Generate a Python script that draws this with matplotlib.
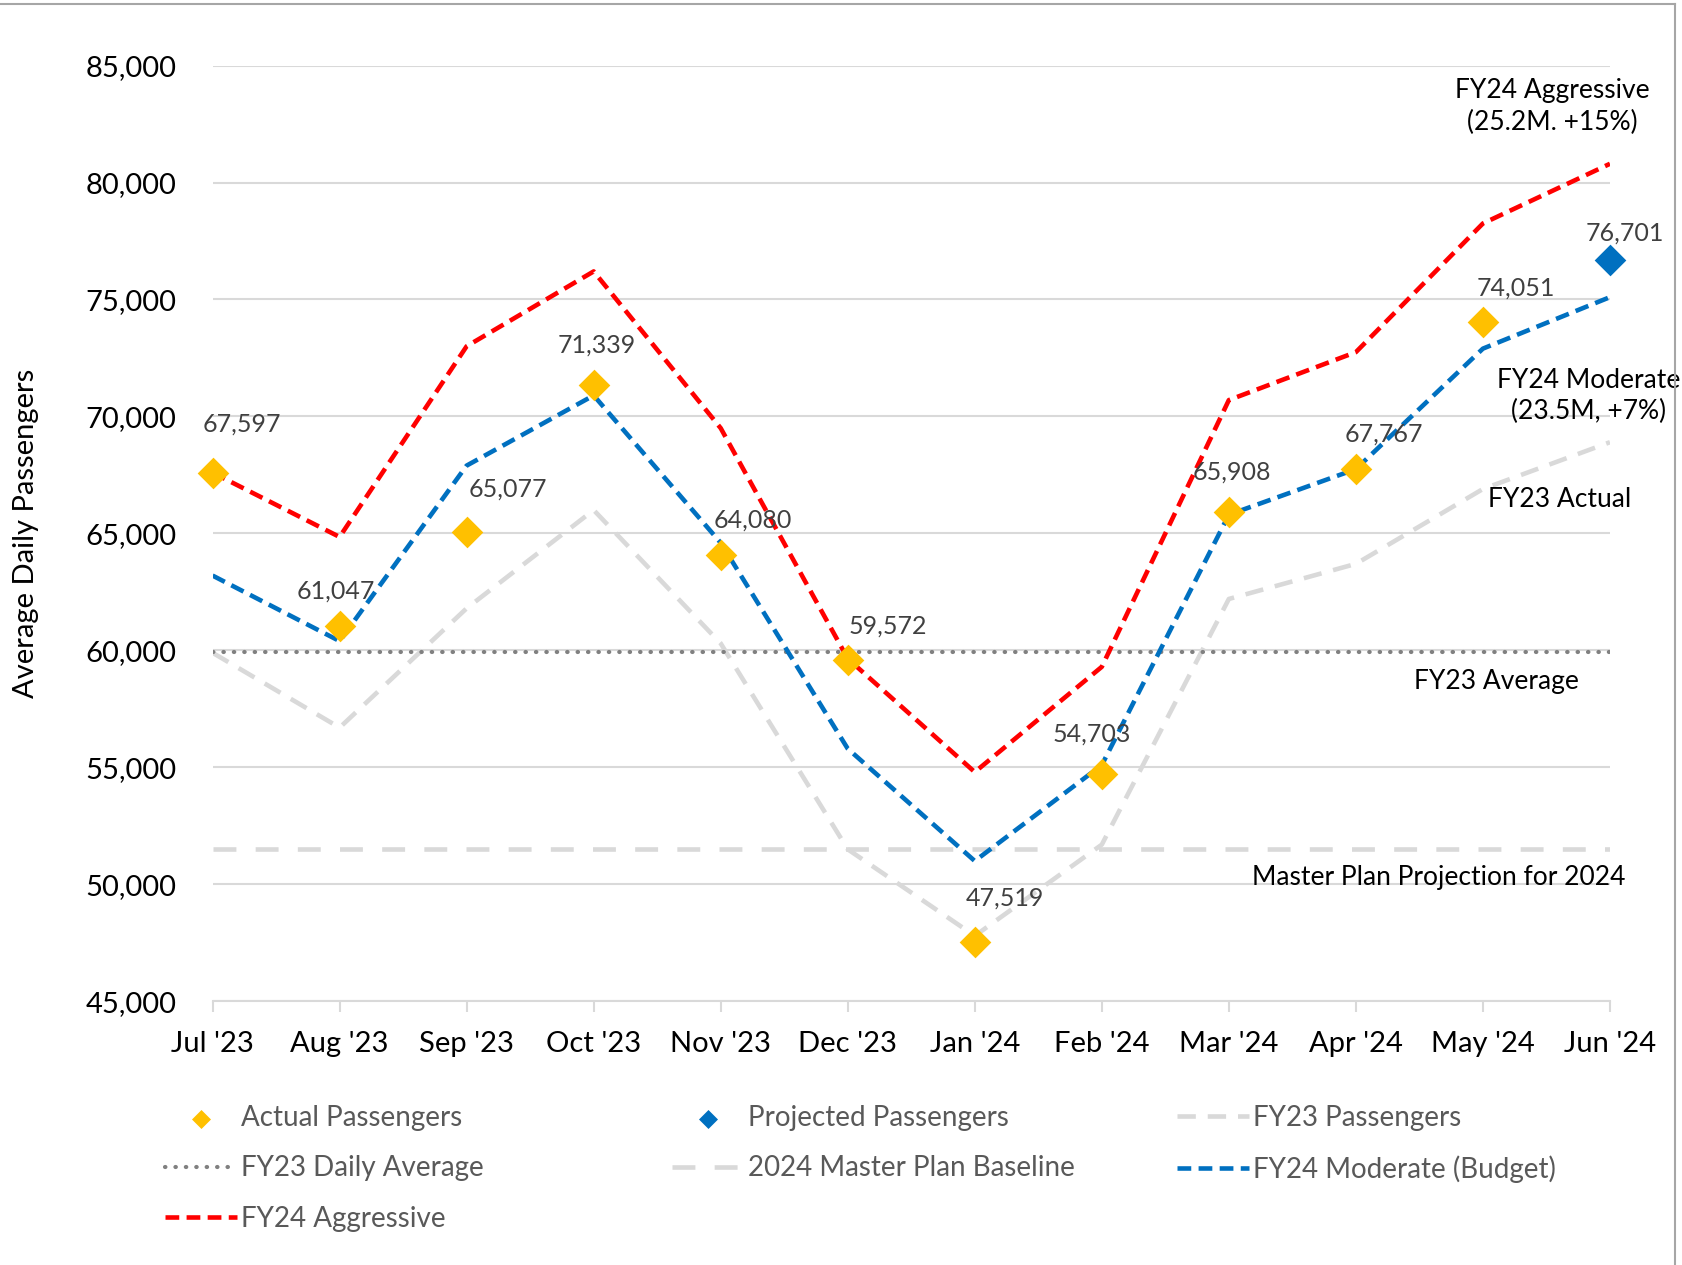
import matplotlib.pyplot as plt
from matplotlib.lines import Line2D

plt.rcParams['font.family'] = ['Lato', 'DejaVu Sans']

# Data
months = ["Jul '23", "Aug '23", "Sep '23", "Oct '23", "Nov '23", "Dec '23",
          "Jan '24", "Feb '24", "Mar '24", "Apr '24", "May '24", "Jun '24"]
actual = [67597, 61047, 65077, 71339, 64080, 59572, 47519, 54703, 65908, 67767, 74051]
projected = [76701]  # Jun '24
fy23_passengers = [59900, 56700, 61800, 66000, 60300, 51500, 47800, 51700, 62200, 63700, 66900, 68900]
fy24_moderate = [63200, 60400, 67900, 70900, 64600, 55800, 51000, 55100, 65800, 67750, 72900, 75100]
fy24_aggressive = [67600, 64850, 73000, 76200, 69500, 59650, 54800, 59300, 70700, 72750, 78250, 80800]
fy23_average = 59950
master_plan = 51500

x = list(range(len(months)))
x_actual = x[:len(actual)]
x_proj = x[len(actual):]

# label offsets (points) for the data labels
label_offsets = [(21, 35), (-3, 25), (30, 31), (2, 29), (23, 25), (29, 25),
                 (22, 32), (-7, 29), (2, 29), (20, 25), (24, 24), (11, 19)]

fig = plt.figure(figsize=(16.83, 12.65), dpi=100)
ax = fig.add_axes([0.1263, 0.2084, 0.9566 - 0.1263, 0.9482 - 0.2084])

# reference lines
ax.plot([x[0], x[-1]], [fy23_average] * 2, color='#808080', lw=3.0,
        linestyle=(0, (0.1, 2.4)), dash_capstyle='round', label='FY23 Daily Average', zorder=3)
ax.plot([x[0], x[-1]], [master_plan] * 2, color='#D9D9D9', lw=3.3,
        linestyle=(0, (5, 4.2)), label='2024 Master Plan Baseline', zorder=2)

# series lines
ax.plot(x, fy23_passengers, color='#D9D9D9', lw=3.3, linestyle=(0, (4, 2.6)),
        label='FY23 Passengers', zorder=2)
ax.plot(x, fy24_moderate, color='#0070C0', lw=3.3, linestyle=(0, (3, 1.6)),
        label='FY24 Moderate (Budget)', zorder=4)
ax.plot(x, fy24_aggressive, color='#FF0000', lw=3.3, linestyle=(0, (3, 1.6)),
        label='FY24 Aggressive', zorder=4)

# markers
ax.scatter(x_actual, actual, marker='D', s=260, color='#FFC000', linewidths=0,
           label='Actual Passengers', zorder=5, clip_on=False)
ax.scatter(x_proj, projected, marker='D', s=260, color='#0070C0', linewidths=0,
           label='Projected Passengers', zorder=5, clip_on=False)

# data labels
for xi, v, off in zip(x, actual + projected, label_offsets):
    ax.annotate(f'{v:,}', (xi, v), xytext=off, textcoords='offset points',
                ha='center', va='center', fontsize=18, color='#404040', zorder=6)

# series annotations
ax.text(10.55, 83250, 'FY24 Aggressive\n(25.2M. +15%)', ha='center', va='center',
        fontsize=19, color='black', linespacing=1.3)
ax.text(10.83, 70870, 'FY24 Moderate\n(23.5M, +7%)', ha='center', va='center',
        fontsize=19, color='black', linespacing=1.3, clip_on=False)
ax.text(10.6, 66470, 'FY23 Actual', ha='center', va='center', fontsize=19, color='black')
ax.text(10.11, 58670, 'FY23 Average', ha='center', va='center', fontsize=19, color='black')
ax.text(9.65, 50280, 'Master Plan Projection for 2024', ha='center', va='center',
        fontsize=19, color='black')

# axes styling
ax.set_xlim(0, 11)
ax.set_ylim(45000, 85000)
ax.set_yticks(range(45000, 85001, 5000))
ax.set_yticklabels([f'{t:,}' for t in range(45000, 85001, 5000)])
ax.set_xticks(x)
ax.set_xticklabels(months)
ax.tick_params(axis='y', length=0, pad=26, labelsize=21, labelcolor='black')
ax.tick_params(axis='x', length=8, width=1.5, color='#D9D9D9', pad=13,
               labelsize=21, labelcolor='black')
ax.grid(axis='y', color='#D9D9D9', lw=1.5, zorder=0)
ax.set_axisbelow(True)
for s in ['top', 'right', 'left']:
    ax.spines[s].set_visible(False)
ax.spines['bottom'].set_color('#D9D9D9')
ax.spines['bottom'].set_linewidth(1.5)
ax.set_ylabel('Average Daily Passengers', fontsize=21, color='black')
ax.yaxis.set_label_coords(-0.1245, 0.5)

# legend in three fixed-width columns
h, l = ax.get_legend_handles_labels()
hd = dict(zip(l, h))
cols = [['Actual Passengers', 'FY23 Daily Average', 'FY24 Aggressive'],
        ['Projected Passengers', '2024 Master Plan Baseline'],
        ['FY23 Passengers', 'FY24 Moderate (Budget)']]
col_x = [165 / 1683, 672 / 1683, 1177 / 1683]
for names, cx in zip(cols, col_x):
    leg = fig.legend([hd[n] for n in names], names, loc='upper left',
                     bbox_to_anchor=(cx, 1 - 1105 / 1265), frameon=False,
                     fontsize=20, labelcolor='#595959', handlelength=2.6,
                     handletextpad=0.15, labelspacing=0.88, borderaxespad=0,
                     borderpad=0, markerscale=0.6)

# chart border (top and right edges)
fig.add_artist(Line2D([0, 1675 / 1683], [1 - 4 / 1265] * 2, color='#A6A6A6', lw=1.5))
fig.add_artist(Line2D([1675 / 1683] * 2, [0, 1 - 4 / 1265], color='#A6A6A6', lw=1.5))

fig.savefig('out.png', dpi=100)
